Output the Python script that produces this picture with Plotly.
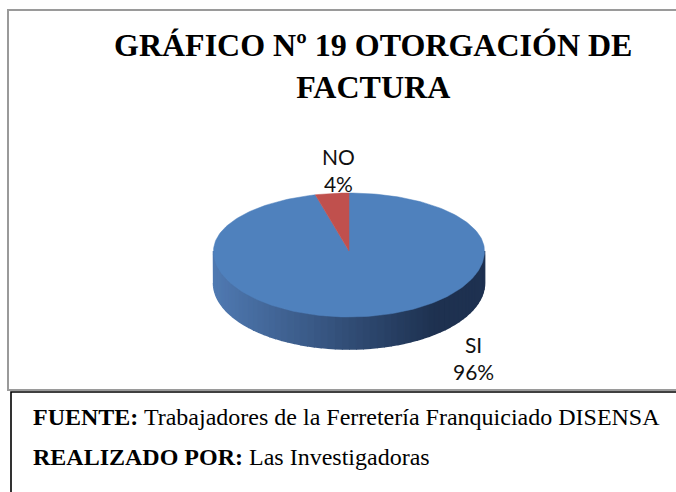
import math
import plotly.graph_objects as go

# ---- data ----
categories = ["SI", "NO"]
values = [96, 4]
slice_colors = ["#4f81bd", "#c0504d"]
title_lines = ["GRÁFICO Nº 19 OTORGACIÓN DE", "FACTURA"]
source_label = "FUENTE:"
source_text = "Trabajadores de la Ferretería Franquiciado DISENSA"
author_label = "REALIZADO POR:"
author_text = "Las Investigadoras"

# ---- geometry of the tilted pie (pixel space) ----
W, H = 676, 492
cx, cy = 349, 251
rx = 135.5
ry_top, ry_bot = 58, 66
depth = 32


def pt(theta_deg, dy=0.0):
    t = math.radians(theta_deg)
    s = math.sin(t)
    ry = ry_top if s > 0 else ry_bot
    return cx + rx * math.cos(t), cy - ry * s + dy


fig = go.Figure()

total = sum(values)
fractions = [v / total for v in values]

# side (front rim) with horizontal shading
light = (80, 122, 178)
dark = (30, 49, 80)
nseg = 60
for i in range(nseg):
    a0 = 180 + 180 * i / nseg
    a1 = 180 + 180 * (i + 1) / nseg
    xs, ys = [], []
    steps = 4
    for k in range(steps + 1):
        a = a0 + (a1 - a0) * k / steps
        x, y = pt(a)
        xs.append(x); ys.append(y)
    for k in range(steps, -1, -1):
        a = a0 + (a1 - a0) * k / steps
        x, y = pt(a, depth)
        xs.append(x); ys.append(y)
    xm = pt((a0 + a1) / 2)[0]
    t = (xm - (cx - rx)) / (2 * rx)
    t = min(1.0, max(0.0, t / 0.82))
    col = tuple(int(light[j] + (dark[j] - light[j]) * t) for j in range(3))
    c = "rgb(%d,%d,%d)" % col
    fig.add_trace(go.Scatter(x=xs, y=ys, mode="lines", fill="toself",
                             fillcolor=c, line=dict(color=c, width=1.6),
                             hoverinfo="skip", showlegend=False))

# top face slices, clockwise from 12 o'clock
cum = 0.0
for cat, frac, col in zip(categories, fractions, slice_colors):
    start = 90 - cum * 360
    end = 90 - (cum + frac) * 360
    n = max(4, int(abs(end - start) / 1.5))
    xs, ys = [cx], [cy]
    for k in range(n + 1):
        a = start + (end - start) * k / n
        x, y = pt(a)
        xs.append(x); ys.append(y)
    xs.append(cx); ys.append(cy)
    fig.add_trace(go.Scatter(x=xs, y=ys, mode="lines", fill="toself",
                             fillcolor=col, line=dict(color=col, width=0.5),
                             hoverinfo="skip", showlegend=False, name=cat))
    cum += frac

# data labels
label_pos = {"NO": (338, 170), "SI": (473, 358)}
for cat, v in zip(categories, values):
    x, y = label_pos[cat]
    fig.add_annotation(x=x, y=y, xref="x", yref="y",
                       text=f"{cat}<br>{round(v / total * 100)}%",
                       showarrow=False, align="center",
                       font=dict(family="Lato, Open Sans, sans-serif", size=21, color="#111"))

# title
fig.add_annotation(x=373, y=66, xref="x", yref="y",
                   text="<b>" + "<br>".join(title_lines) + "</b>",
                   showarrow=False, align="center",
                   font=dict(family="Liberation Serif, Times New Roman, serif", size=32, color="#000"))

# footer
fig.add_annotation(x=31, y=417, xref="x", yref="y", xanchor="left",
                   text=f"<b>{source_label}</b> {source_text}",
                   showarrow=False, align="left",
                   font=dict(family="Liberation Serif, Times New Roman, serif", size=24, color="#000"))
fig.add_annotation(x=31, y=457, xref="x", yref="y", xanchor="left",
                   text=f"<b>{author_label}</b> {author_text}",
                   showarrow=False, align="left",
                   font=dict(family="Liberation Serif, Times New Roman, serif", size=24, color="#000"))

# frames
fig.add_shape(type="rect", xref="x", yref="y", x0=8, y0=10, x1=690, y1=390,
              line=dict(color="#9a9a9a", width=2), layer="below")
fig.add_shape(type="rect", xref="x", yref="y", x0=11, y0=392, x1=690, y1=520,
              line=dict(color="#000000", width=1.6), layer="below")

fig.update_layout(
    width=W, height=H,
    margin=dict(l=0, r=0, t=0, b=0),
    paper_bgcolor="white", plot_bgcolor="white",
    xaxis=dict(range=[0, W], visible=False, fixedrange=True),
    yaxis=dict(range=[H, 0], visible=False, fixedrange=True),
    showlegend=False,
)

fig.write_html("out.html", config={"displayModeBar": False},
               post_script="document.body.style.margin='0';document.body.style.overflow='hidden';")
